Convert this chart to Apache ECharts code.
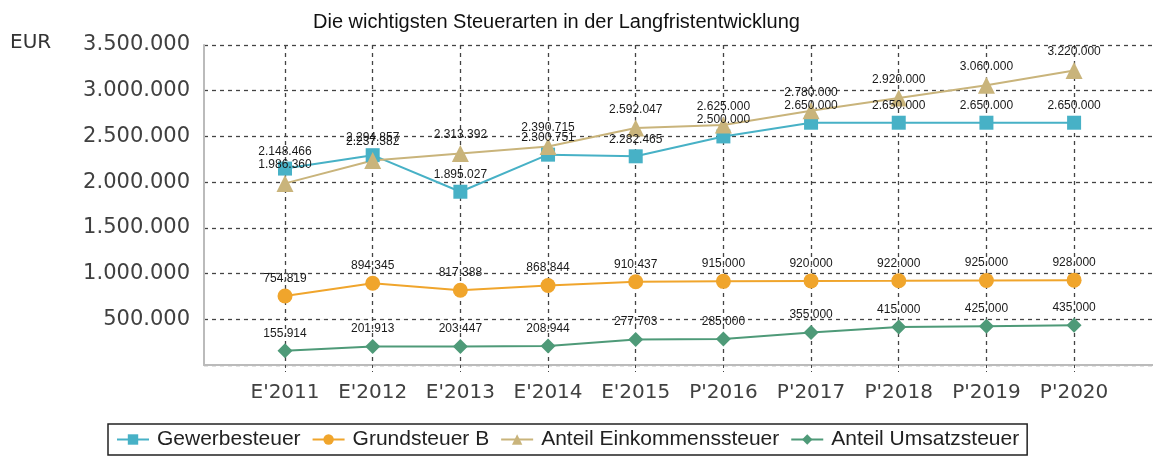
<!DOCTYPE html>
<html>
<head>
<meta charset="utf-8">
<script src="https://cdn.jsdelivr.net/npm/echarts@6/dist/echarts.min.js"></script>
<style>
  html, body { margin: 0; padding: 0; background: #fff; }
  #chart { width: 1153px; height: 461px; }
</style>
</head>
<body>
<div id="chart"></div>
<script>
var categories = ["E'2011", "E'2012", "E'2013", "E'2014", "E'2015", "P'2016", "P'2017", "P'2018", "P'2019", "P'2020"];
var gewerbesteuer = [2148466, 2294857, 1895027, 2300751, 2282465, 2500000, 2650000, 2650000, 2650000, 2650000];
var grundsteuerB = [754819, 894345, 817388, 868844, 910437, 915000, 920000, 922000, 925000, 928000];
var einkommensteuer = [1986360, 2237382, 2313392, 2390715, 2592047, 2625000, 2780000, 2920000, 3060000, 3220000];
var umsatzsteuer = [155914, 201913, 203447, 208944, 277703, 285000, 355000, 415000, 425000, 435000];
var yTicks = [0, 500000, 1000000, 1500000, 2000000, 2500000, 3000000, 3500000];

function fmt(v){
  return String(v).replace(/\B(?=(\d{3})+(?!\d))/g, ".");
}
function pairs(arr){
  return arr.map(function(v, i){ return [i, v]; });
}
function makeSeries(name, values, color, symbol, size){
  return {
    name: name,
    type: "line",
    data: pairs(values),
    symbol: symbol,
    symbolSize: size,
    lineStyle: { color: color, width: 2 },
    itemStyle: { color: color },
    label: {
      show: true,
      position: "top",
      distance: 4,
      fontFamily: "Liberation Sans",
      fontSize: 12,
      color: "#1a1a1a",
      formatter: function(p){ return fmt(p.value[1]); }
    },
    emphasis: { disabled: true }
  };
}

window.onload = function(){
  var myChart = echarts.init(document.getElementById("chart"));
  var dashed = { color: "#444", width: 1.3, type: [4, 4] };
  var catIdx = categories.map(function(c, i){ return i; });
  myChart.setOption({
    animation: false,
    title: {
      text: "Die wichtigsten Steuerarten in der Langfristentwicklung",
      left: 308,
      top: 7,
      textStyle: { fontFamily: "Liberation Sans", fontSize: 20, fontWeight: "normal", color: "#111" }
    },
    graphic: [{
      type: "text",
      left: 10,
      top: 33,
      style: { text: "EUR", font: "20px DejaVu Sans", fill: "#333" }
    }],
    legend: {
      bottom: 6,
      left: 108,
      borderColor: "#222",
      borderWidth: 1.5,
      padding: [5, 8],
      itemGap: 11,
      itemWidth: 32,
      itemHeight: 13,
      textStyle: { fontFamily: "Liberation Sans", fontSize: 21, color: "#222", padding: [0, 0, 0, 3] }
    },
    grid: { left: 204, right: 0, top: 45, bottom: 96, outerBoundsMode: "none" },
    xAxis: {
      type: "value",
      min: -0.924,
      max: 9.9,
      axisLine: { show: true, onZero: false, lineStyle: { color: "#bbb", width: 2 } },
      axisTick: { show: true, customValues: catIdx, length: 7, lineStyle: { color: "#444", type: [3, 3] } },
      splitLine: { show: true, lineStyle: dashed },
      axisLabel: {
        customValues: catIdx,
        margin: 18,
        fontFamily: "DejaVu Sans",
        fontSize: 20,
        color: "#404040",
        formatter: function(v){ return categories[Math.round(v)] || ""; }
      }
    },
    yAxis: {
      type: "value",
      min: yTicks[0],
      max: yTicks[yTicks.length - 1],
      interval: 500000,
      axisLine: { show: true, onZero: false, lineStyle: { color: "#bbb", width: 2 } },
      axisTick: { show: false },
      splitLine: { show: true, lineStyle: dashed },
      axisLabel: {
        margin: 14,
        fontFamily: "DejaVu Sans",
        fontSize: 21,
        color: "#404040",
        formatter: function(v){ return v === 0 ? "" : fmt(v); }
      }
    },
    series: [
      makeSeries("Gewerbesteuer", gewerbesteuer, "#47b1c6", "rect", 14),
      makeSeries("Grundsteuer B", grundsteuerB, "#f0a52c", "circle", 15),
      makeSeries("Anteil Einkommenssteuer", einkommensteuer, "#c9b47b", "triangle", 17),
      makeSeries("Anteil Umsatzsteuer", umsatzsteuer, "#4e9a78", "diamond", 15)
    ]
  });
  window.addEventListener("resize", function(){ myChart.resize(); }, false);
};
</script>
</body>
</html>
